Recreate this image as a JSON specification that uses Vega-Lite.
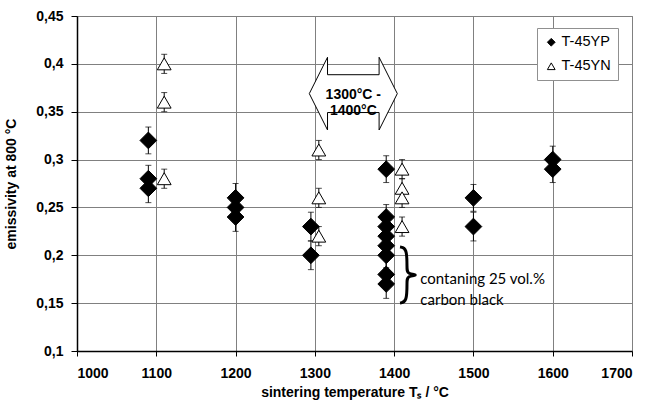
{
  "$schema": "https://vega.github.io/schema/vega-lite/v6.json",
  "width": 555,
  "height": 335,
  "autosize": {"type": "none"},
  "padding": {"left": 77, "top": 16, "right": 18, "bottom": 54},
  "background": "white",
  "config": {
    "view": {"stroke": "#808080", "strokeWidth": 1},
    "font": "Liberation Sans, Arial, sans-serif",
    "axis": {
      "labelFont": "Liberation Sans, Arial, sans-serif", "labelFontWeight": "bold", "labelFontSize": 14, "labelColor": "#000",
      "titleFont": "Liberation Sans, Arial, sans-serif", "titleFontWeight": "bold", "titleFontSize": 14, "titleColor": "#000",
      "domainColor": "#000", "domainWidth": 1.5, "tickColor": "#000",
      "gridColor": "#808080", "gridWidth": 1, "gridOpacity": 1
    },
    "legend": {
      "orient": "none", "legendX": 460, "legendY": 12,
      "labelFont": "Liberation Sans, Arial, sans-serif", "labelFontSize": 14.5, "labelFontWeight": "normal", "labelColor": "black",
      "symbolSize": 60, "symbolStrokeWidth": 1,
      "padding": 7, "rowPadding": 9, "strokeColor": "#909090", "fillColor": "white", "labelOffset": 3
    }
  },
  "datasets": {
    "pts": [
      {"T": 1090, "e": 0.32, "err": 0.014, "s": "T-45YP"},
      {"T": 1090, "e": 0.28, "err": 0.014, "s": "T-45YP"},
      {"T": 1090, "e": 0.27, "err": 0.015, "s": "T-45YP"},
      {"T": 1200, "e": 0.26, "err": 0.015, "s": "T-45YP"},
      {"T": 1200, "e": 0.25, "err": 0.015, "s": "T-45YP"},
      {"T": 1200, "e": 0.24, "err": 0.015, "s": "T-45YP"},
      {"T": 1295, "e": 0.23, "err": 0.015, "s": "T-45YP"},
      {"T": 1295, "e": 0.20, "err": 0.015, "s": "T-45YP"},
      {"T": 1390, "e": 0.29, "err": 0.014, "s": "T-45YP"},
      {"T": 1390, "e": 0.24, "err": 0.013, "s": "T-45YP"},
      {"T": 1390, "e": 0.23, "err": 0.013, "s": "T-45YP"},
      {"T": 1390, "e": 0.22, "err": 0.013, "s": "T-45YP"},
      {"T": 1390, "e": 0.21, "err": 0.013, "s": "T-45YP"},
      {"T": 1390, "e": 0.20, "err": 0.013, "s": "T-45YP"},
      {"T": 1390, "e": 0.18, "err": 0.015, "s": "T-45YP"},
      {"T": 1390, "e": 0.17, "err": 0.015, "s": "T-45YP"},
      {"T": 1500, "e": 0.26, "err": 0.014, "s": "T-45YP"},
      {"T": 1500, "e": 0.23, "err": 0.015, "s": "T-45YP"},
      {"T": 1600, "e": 0.30, "err": 0.014, "s": "T-45YP"},
      {"T": 1600, "e": 0.29, "err": 0.014, "s": "T-45YP"},
      {"T": 1110, "e": 0.40, "err": 0.01, "s": "T-45YN"},
      {"T": 1110, "e": 0.36, "err": 0.01, "s": "T-45YN"},
      {"T": 1110, "e": 0.28, "err": 0.01, "s": "T-45YN"},
      {"T": 1305, "e": 0.31, "err": 0.01, "s": "T-45YN"},
      {"T": 1305, "e": 0.26, "err": 0.01, "s": "T-45YN"},
      {"T": 1305, "e": 0.22, "err": 0.01, "s": "T-45YN"},
      {"T": 1410, "e": 0.29, "err": 0.01, "s": "T-45YN"},
      {"T": 1410, "e": 0.27, "err": 0.01, "s": "T-45YN"},
      {"T": 1410, "e": 0.26, "err": 0.01, "s": "T-45YN"},
      {"T": 1410, "e": 0.23, "err": 0.01, "s": "T-45YN"}
    ],
    "arrow": [{"T": 1348.5, "e": 0.3689}],
    "brace": [
      {"i": 0, "T": 1407.4, "e": 0.2087},
      {"i": 1, "T": 1416.2, "e": 0.2076},
      {"i": 2, "T": 1416.2, "e": 0.1867},
      {"i": 3, "T": 1416.2, "e": 0.1804},
      {"i": 4, "T": 1432.0, "e": 0.1794},
      {"i": 5, "T": 1416.2, "e": 0.1784},
      {"i": 6, "T": 1416.2, "e": 0.1721},
      {"i": 7, "T": 1416.2, "e": 0.1512},
      {"i": 8, "T": 1407.4, "e": 0.1501}
    ],
    "arrowText": [{"T": 1348.5, "e": 0.3678, "label": ["1300°C -", "1400°C"]}],
    "braceText": [{"T": 1433, "e": 0.1757, "label": ["contaning 25 vol.%", "carbon black"]}]
  },
  "encoding": {
    "x": {
      "field": "T", "type": "quantitative",
      "scale": {"domain": [1000, 1700], "nice": false, "zero": false},
      "axis": {
        "values": [1000, 1100, 1200, 1300, 1400, 1500, 1600, 1700],
        "format": "d", "title": "sintering temperature Tₛ / °C",
        "tickSize": 5, "labelPadding": 10, "titlePadding": 5, "grid": true
      }
    },
    "y": {
      "field": "e", "type": "quantitative",
      "scale": {"domain": [0.1, 0.45], "nice": false, "zero": false},
      "axis": {
        "values": [0.1, 0.15, 0.2, 0.25, 0.3, 0.35, 0.4, 0.45],
        "labelExpr": "replace(format(datum.value, '.2~f'), '.', ',')",
        "title": "emissivity at 800 °C",
        "tickSize": 6, "labelPadding": 8, "titlePadding": 17, "grid": true
      }
    }
  },
  "layer": [
    {
      "data": {"name": "arrow"},
      "mark": {"type": "point", "shape": "M-1,0L-0.586,-0.826L-0.586,-0.43L0.586,-0.43L0.586,-0.826L1,0L0.586,0.826L0.586,0.43L-0.586,0.43L-0.586,0.826Z", "size": 7744, "filled": true, "fill": "white", "stroke": "black", "strokeWidth": 1, "opacity": 1}
    },
    {
      "data": {"name": "arrowText"},
      "mark": {"type": "text", "font": "Liberation Sans, Arial, sans-serif", "fontWeight": "bold", "fontSize": 14, "align": "center", "baseline": "middle", "lineHeight": 16, "color": "black"},
      "encoding": {"text": {"field": "label"}}
    },
    {
      "data": {"name": "pts"},
      "mark": {"type": "errorbar", "ticks": {"size": 6, "color": "black", "strokeWidth": 1}, "color": "black", "thickness": 1},
      "encoding": {"yError": {"field": "err"}}
    },
    {
      "data": {"name": "pts"},
      "transform": [{"filter": "datum.s === 'T-45YP'"}],
      "mark": {"type": "point", "filled": true, "strokeWidth": 1, "opacity": 1, "size": 280},
      "encoding": {
        "shape": {"field": "s", "type": "nominal", "scale": {"domain": ["T-45YP", "T-45YN"], "range": ["diamond", "triangle-up"]}, "legend": {"title": null}},
        "fill": {"field": "s", "type": "nominal", "scale": {"domain": ["T-45YP", "T-45YN"], "range": ["black", "white"]}, "legend": {"title": null}},
        "stroke": {"field": "s", "type": "nominal", "scale": {"domain": ["T-45YP", "T-45YN"], "range": ["black", "black"]}, "legend": {"title": null}}
      }
    },
    {
      "data": {"name": "pts"},
      "transform": [{"filter": "datum.s === 'T-45YN'"}],
      "mark": {"type": "point", "filled": true, "strokeWidth": 1, "opacity": 1, "size": 190},
      "encoding": {
        "shape": {"field": "s", "type": "nominal", "scale": {"domain": ["T-45YP", "T-45YN"], "range": ["diamond", "triangle-up"]}, "legend": {"title": null}},
        "fill": {"field": "s", "type": "nominal", "scale": {"domain": ["T-45YP", "T-45YN"], "range": ["black", "white"]}, "legend": {"title": null}},
        "stroke": {"field": "s", "type": "nominal", "scale": {"domain": ["T-45YP", "T-45YN"], "range": ["black", "black"]}, "legend": {"title": null}}
      }
    },
    {
      "data": {"name": "brace"},
      "mark": {"type": "line", "interpolate": "basis", "stroke": "black", "strokeWidth": 3},
      "encoding": {"order": {"field": "i", "type": "quantitative"}}
    },
    {
      "data": {"name": "braceText"},
      "mark": {"type": "text", "font": "Lato", "fontSize": 15, "align": "left", "baseline": "middle", "lineHeight": 21, "color": "black"},
      "encoding": {"text": {"field": "label"}}
    }
  ]
}
